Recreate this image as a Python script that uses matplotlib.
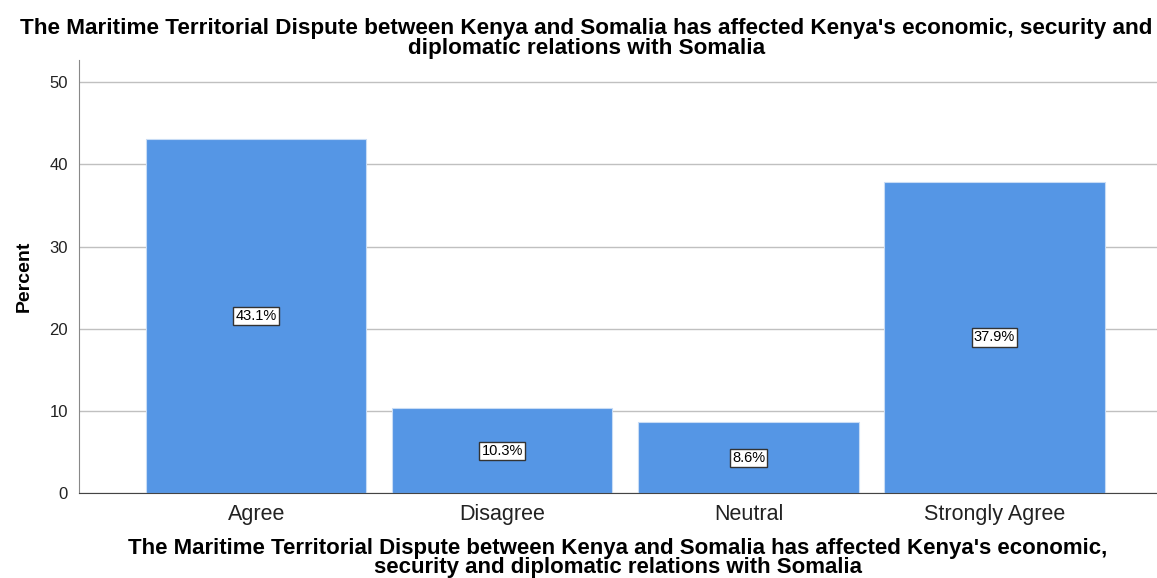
import matplotlib
matplotlib.use("Agg")
import matplotlib.pyplot as plt

categories = ["Agree", "Disagree", "Neutral", "Strongly Agree"]
percents = [43.1, 10.3, 8.6, 37.9]
labels = ["43.1%", "10.3%", "8.6%", "37.9%"]
yticks = [0, 10, 20, 30, 40, 50]
title = ("The Maritime Territorial Dispute between Kenya and Somalia has affected Kenya's economic, security and\n"
         "diplomatic relations with Somalia")
xlabel = ("The Maritime Territorial Dispute between Kenya and Somalia has affected Kenya's economic,\n"
          "security and diplomatic relations with Somalia")

plt.rcParams['font.family'] = ['Liberation Sans', 'DejaVu Sans']

fig = plt.figure(figsize=(11.57, 5.78), dpi=100)
ax = fig.add_axes([0.0683, 0.147, 0.9317, 0.749])

x = range(len(categories))
ax.bar(x, percents, width=0.895, color="#5596e5", edgecolor="#c8dcf5", linewidth=0.8, zorder=2)

# value boxes in the middle of each bar
for i, (p, lab) in enumerate(zip(percents, labels)):
    ax.text(i, p / 2, lab, ha="center", va="center", fontsize=10.5, color="black", zorder=3,
            bbox=dict(boxstyle="square,pad=0.15", facecolor="white", edgecolor="#333333", linewidth=1))

ax.set_xlim(-0.72, 3.66)
ax.set_ylim(0, 52.7)
ax.set_yticks(yticks)
ax.set_xticks(list(x))
ax.set_xticklabels(categories, fontsize=15.5, color="#222222")
ax.tick_params(axis="y", labelsize=12, colors="#222222", length=0, pad=8)
ax.tick_params(axis="x", length=0, pad=8)
ax.yaxis.grid(True, color="#c0c0c0", linewidth=1, zorder=0)
ax.set_axisbelow(True)

for s in ["top", "right"]:
    ax.spines[s].set_visible(False)
ax.spines["left"].set_color("#888888")
ax.spines["bottom"].set_color("#444444")

ax.set_ylabel("Percent", fontsize=14, fontweight="bold", labelpad=12)
ax.set_xlabel(xlabel, fontsize=16, fontweight="bold", labelpad=9, linespacing=0.9)
fig.text(0.507, 0.968, title, ha="center", va="top", fontsize=16.2, fontweight="bold", linespacing=0.9)

fig.savefig("out.png", dpi=100)
